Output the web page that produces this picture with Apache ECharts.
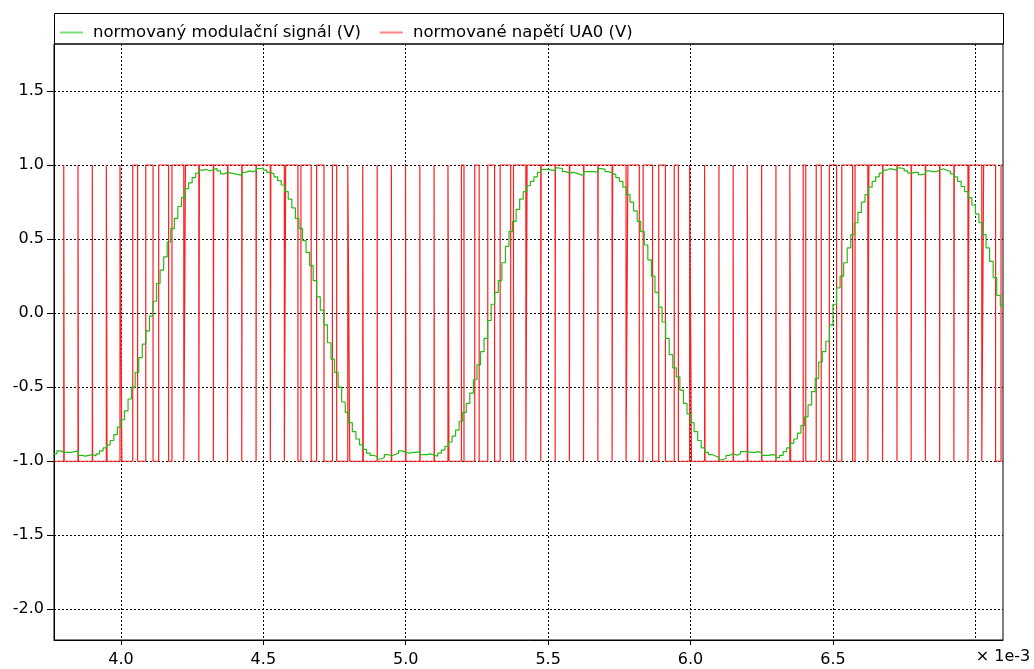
<!DOCTYPE html>
<html>
<head>
<meta charset="utf-8">
<script src="https://cdn.jsdelivr.net/npm/echarts@6/dist/echarts.min.js"></script>
<style>
  html, body { margin: 0; padding: 0; background: #ffffff; }
  #chart { width: 1034px; height: 669px; }
</style>
</head>
<body>
<div id="chart"></div>
<script>
// Series names as shown in the legend
const seriesNames = ['normovaný modulační signál (V)', 'normované napětí UA0 (V)'];

// Axis ranges (time axis in ms, i.e. × 1e-3 s)
const xRange = [3.765, 7.097];
const yRange = [-2.207, 1.817];
const xLabelValues = [4.0, 4.5, 5.0, 5.5, 6.0, 6.5];
const xExtraGridValues = [7.0];
const yTickValues = [-2.0, -1.5, -1.0, -0.5, 0.0, 0.5, 1.0, 1.5];
const xUnitText = '× 1e-3';

// Normalised modulation signal: sampled every 12.5 µs, held between samples
const modulationStart = 3.7625;
const modulationStep = 0.0125;
const modulationValues = [
  -0.95, -0.93, -0.94, -0.94, -0.94, -0.935, -0.93, -0.96, -0.965, -0.96,
  -0.955, -0.965, -0.95, -0.93, -0.91, -0.89, -0.86, -0.82, -0.77, -0.72,
  -0.66, -0.58, -0.50, -0.40, -0.30, -0.21, -0.12, -0.02, 0.08, 0.20,
  0.29, 0.38, 0.48, 0.57, 0.64, 0.72, 0.78, 0.84, 0.88, 0.915,
  0.945, 0.965, 0.97, 0.96, 0.97, 0.975, 0.96, 0.94, 0.95, 0.945,
  0.94, 0.935, 0.93, 0.95, 0.96, 0.955, 0.96, 0.975, 0.98, 0.965,
  0.95, 0.94, 0.92, 0.895, 0.865, 0.82, 0.77, 0.71, 0.64, 0.57,
  0.49, 0.41, 0.32, 0.22, 0.11, 0.02, -0.08, -0.20, -0.31, -0.40,
  -0.50, -0.60, -0.67, -0.74, -0.80, -0.85, -0.89, -0.92, -0.945, -0.96,
  -0.97, -0.985, -0.975, -0.955, -0.965, -0.955, -0.945, -0.93, -0.94, -0.945,
  -0.94, -0.94, -0.935, -0.955, -0.955, -0.95, -0.96, -0.965, -0.945, -0.925,
  -0.90, -0.87, -0.83, -0.79, -0.73, -0.67, -0.61, -0.54, -0.45, -0.35,
  -0.26, -0.17, -0.05, 0.06, 0.14, 0.22, 0.34, 0.45, 0.55, 0.62,
  0.70, 0.77, 0.82, 0.86, 0.89, 0.92, 0.95, 0.97, 0.97, 0.965,
  0.96, 0.98, 0.975, 0.955, 0.945, 0.95, 0.945, 0.935, 0.93, 0.955,
  0.955, 0.955, 0.95, 0.975, 0.97, 0.955, 0.945, 0.935, 0.915, 0.89,
  0.85, 0.80, 0.75, 0.69, 0.62, 0.55, 0.46, 0.36, 0.25, 0.14,
  0.04, -0.06, -0.17, -0.28, -0.37, -0.43, -0.52, -0.61, -0.68, -0.74,
  -0.80, -0.86, -0.91, -0.94, -0.955, -0.965, -0.975, -0.99, -0.98, -0.96,
  -0.95, -0.96, -0.95, -0.935, -0.935, -0.94, -0.94, -0.935, -0.945, -0.96,
  -0.96, -0.955, -0.96, -0.975, -0.96, -0.935, -0.91, -0.88, -0.85, -0.81,
  -0.76, -0.70, -0.62, -0.53, -0.44, -0.33, -0.26, -0.19, -0.08, 0.06,
  0.17, 0.25, 0.34, 0.44, 0.53, 0.61, 0.68, 0.75, 0.80, 0.85,
  0.89, 0.92, 0.945, 0.965, 0.975, 0.97, 0.965, 0.98, 0.975, 0.96,
  0.945, 0.95, 0.95, 0.935, 0.94, 0.96, 0.955, 0.955, 0.965, 0.975,
  0.965, 0.955, 0.94, 0.92, 0.89, 0.855, 0.82, 0.78, 0.73, 0.67,
  0.61, 0.53, 0.44, 0.35, 0.24, 0.12, 0.05
];

// PWM output UA0: two levels, switching times in ms (starts at the low level)
const ua0Levels = [-1, 1];
const ua0Edges = [
  3.79925, 3.80075, 3.84925, 3.85075, 3.8995, 3.9005, 3.94875, 3.95125,
  3.99675, 4.00325, 4.0415, 4.0585, 4.08725, 4.11275, 4.1325, 4.1675,
  4.17925, 4.22075, 4.2265, 4.2735, 4.2755, 4.3245, 4.32575, 4.37425,
  4.37575, 4.42425, 4.4255, 4.4745, 4.4755, 4.5245, 4.52625, 4.57375,
  4.5785, 4.6215, 4.632, 4.668, 4.687, 4.713, 4.7425, 4.7575,
  4.7965, 4.8035, 4.849, 4.851, 4.89975, 4.90025, 4.9495, 4.9505,
  4.99925, 5.00075, 5.0495, 5.0505, 5.0995, 5.1005, 5.14825, 5.15175,
  5.1955, 5.2045, 5.24225, 5.25775, 5.288, 5.312, 5.3315, 5.3685,
  5.37825, 5.42175, 5.426, 5.474, 5.4755, 5.5245, 5.5255, 5.5745,
  5.57575, 5.62425, 5.6255, 5.6745, 5.6755, 5.7245, 5.7265, 5.7735,
  5.78, 5.82, 5.8335, 5.8665, 5.88825, 5.91175, 5.94275, 5.95725,
  5.99675, 6.00325, 6.04925, 6.05075, 6.09975, 6.10025, 6.1495, 6.1505,
  6.19925, 6.20075, 6.2495, 6.2505, 6.29975, 6.30025, 6.3485, 6.3515,
  6.3955, 6.4045, 6.44125, 6.45875, 6.48725, 6.51275, 6.531, 6.569,
  6.5775, 6.6225, 6.626, 6.674, 6.67525, 6.72475, 6.7255, 6.7745,
  6.77575, 6.82425, 6.8255, 6.8745, 6.8755, 6.9245, 6.926, 6.974,
  6.9775, 7.0225, 7.029, 7.071, 7.09
];

// Build the sample-and-hold trace of the modulation signal
const modulationData = modulationValues.map((v, i) => [modulationStart + i * modulationStep, v]);
modulationData.push([modulationStart + modulationValues.length * modulationStep,
  modulationValues[modulationValues.length - 1]]);

// Build the rectangular PWM trace from its switching times
const ua0Data = [[xRange[0], ua0Levels[0]]];
let lvl = 0;
ua0Edges.forEach(function (t) {
  ua0Data.push([t, ua0Levels[lvl]]);
  lvl = 1 - lvl;
  ua0Data.push([t, ua0Levels[lvl]]);
});
ua0Data.push([xRange[1], ua0Levels[lvl]]);

const FONT = 'DejaVu Sans';
const GREEN = '#26bb16';
const RED = '#ff1f1f';
const gridLine = { show: true, lineStyle: { color: '#000000', width: 1, type: [2, 2] } };
const fmt1 = function (v) { return v.toFixed(1); };

const chart = echarts.init(document.getElementById('chart'), null, { renderer: 'canvas' });
chart.setOption({
  animation: false,
  backgroundColor: '#ffffff',
  textStyle: { fontFamily: FONT },
  grid: {
    left: 54, top: 44, width: 949, height: 596,
    show: true, borderColor: '#000000', borderWidth: 1, backgroundColor: 'transparent'
  },
  legend: {
    data: [
      { name: seriesNames[0], icon: 'rect', itemStyle: { color: '#7ede72' } },
      { name: seriesNames[1], icon: 'rect', itemStyle: { color: '#ff8585' } }
    ],
    left: 60, top: 24, padding: 0,
    itemWidth: 23, itemHeight: 2, itemGap: 19,
    textStyle: { fontFamily: FONT, fontSize: 16.5, color: '#000000', padding: [0, 0, 0, 5] }
  },
  xAxis: [
    {
      type: 'value',
      min: xRange[0], max: xRange[1],
      axisLine: { show: true, onZero: false, lineStyle: { color: '#000000', width: 1 } },
      axisTick: { show: true, length: 5, customValues: xLabelValues, lineStyle: { color: '#000000' } },
      axisLabel: {
        customValues: xLabelValues, formatter: fmt1,
        fontFamily: FONT, fontSize: 16, color: '#000000', margin: 12
      },
      splitLine: gridLine
    },
    {
      // extra vertical grid line without a tick label
      type: 'value', gridIndex: 0, position: 'bottom',
      min: xRange[0], max: xRange[1],
      axisLine: { show: false },
      axisTick: { show: false, customValues: xExtraGridValues },
      axisLabel: { show: false },
      splitLine: gridLine
    }
  ],
  yAxis: {
    type: 'value',
    min: yRange[0], max: yRange[1],
    axisLine: { show: true, onZero: false, lineStyle: { color: '#000000', width: 1 } },
    axisTick: { show: true, length: 7, customValues: yTickValues, lineStyle: { color: '#000000' } },
    axisLabel: {
      customValues: yTickValues, formatter: fmt1,
      fontFamily: FONT, fontSize: 16, color: '#000000', margin: 10
    },
    splitLine: gridLine
  },
  graphic: [
    {
      type: 'rect',
      shape: { x: 54.5, y: 13.5, width: 949, height: 30.5 },
      style: { fill: 'none', stroke: '#000000', lineWidth: 1 },
      z: 0
    },
    {
      type: 'text',
      x: 1003, y: 657,
      style: {
        text: xUnitText, font: '16px "DejaVu Sans"', fill: '#000000',
        textAlign: 'center', textVerticalAlign: 'middle'
      }
    }
  ],
  series: [
    {
      name: seriesNames[1],
      type: 'line',
      xAxisIndex: 0,
      data: ua0Data,
      showSymbol: false,
      symbol: 'none',
      lineStyle: { color: RED, width: 1.2 },
      itemStyle: { color: RED },
      z: 2
    },
    {
      name: seriesNames[0],
      type: 'line',
      xAxisIndex: 0,
      data: modulationData,
      step: 'end',
      showSymbol: false,
      symbol: 'none',
      lineStyle: { color: GREEN, width: 1.2 },
      itemStyle: { color: GREEN },
      z: 3
    }
  ]
});
</script>
</body>
</html>
